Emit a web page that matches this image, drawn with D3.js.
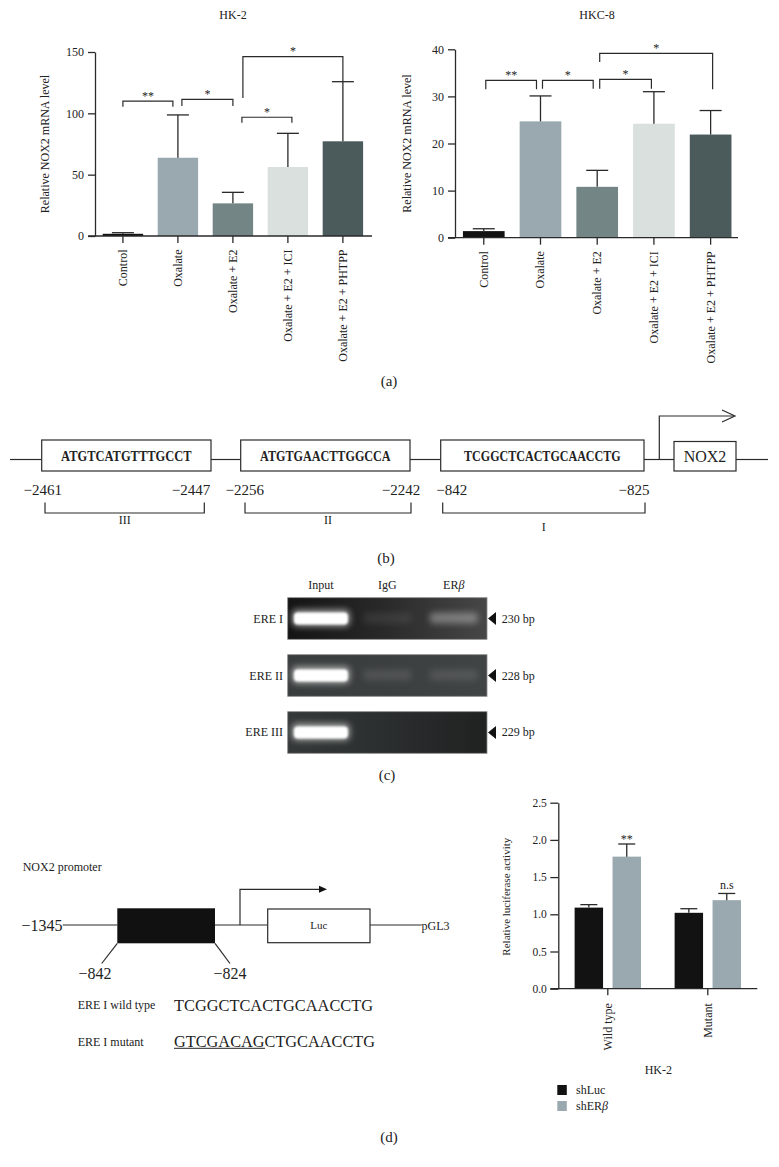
<!DOCTYPE html>
<html><head><meta charset="utf-8">
<script src="https://cdn.jsdelivr.net/npm/d3@7/dist/d3.min.js"></script>
<style>
body{margin:0;background:#fff}
svg{display:block}
text{font-family:"Liberation Serif","Times New Roman",serif;fill:#222}
</style>
</head><body>
<svg id="c" width="779" height="1167"></svg>
<script>
// ---------------- DATA ----------------
const treatments = ["Control","Oxalate","Oxalate + E2","Oxalate + E2 + ICI","Oxalate + E2 + PHTPP"];
const hk2Mean = [1.8, 63.8, 26.6, 56.2, 77.2];
const hk2SD   = [0.9, 34.9, 9.0, 27.5, 48.6];
const hk2Ticks = [0, 50, 100, 150];
const hkc8Mean = [1.4, 24.7, 10.8, 24.2, 21.9];
const hkc8SD   = [0.5, 5.4, 3.5, 6.8, 5.1];
const hkc8Ticks = [0, 10, 20, 30, 40];
// significance brackets: category a -> b, top level, leg ends (data units)
const hk2Sig = [
  {a:0,b:1,top:110,la:105.4,lb:105.4,label:"**"},
  {a:1,b:2,top:111.4,la:106,lb:106,label:"*"},
  {a:2,b:3,top:96.8,la:92.4,lb:92.4,label:"*"},
  {a:2,b:4,top:146.2,la:112.5,lb:125.8,label:"*"}
];
const hkc8Sig = [
  {a:0,b:1,top:33.4,la:31.5,lb:31.5,label:"**"},
  {a:1,b:2,top:33.4,la:31.6,lb:31.6,label:"*"},
  {a:2,b:3,top:33.6,la:31.6,lb:31.6,label:"*"},
  {a:2,b:4,top:39.15,la:37.3,lb:31.5,label:"*"}
];
// panel b: ERE elements
const ereSeqs = ["ATGTCATGTTTGCCT","ATGTGAACTTGGCCA","TCGGCTCACTGCAACCTG"];
const ereStart = ["\u22122461","\u22122256","\u2212842"];
const ereEnd   = ["\u22122447","\u22122242","\u2212825"];
const ereNames = ["III","II","I"];
// panel c: ChIP gel
const lanes = ["Input","IgG","ER\u03b2"];
const gelRows = ["ERE I","ERE II","ERE III"];
const gelSizes = ["230 bp","228 bp","229 bp"];
const bandIntensity = [[1,0.07,0.32],[1,0.10,0.10],[1,0.0,0.0]];
// panel d: luciferase
const lucGroups = ["Wild type","Mutant"];
const lucSeries = ["shLuc","shER\u03b2"];
const shLucMean = [1.09, 1.02];
const shLucSD   = [0.04, 0.055];
const shERbMean = [1.775, 1.19];
const shERbSD   = [0.17, 0.09];
const lucTicks = [0, 0.5, 1.0, 1.5, 2.0, 2.5];
const lucSig = ["**","n.s"];
const wtSeq = "TCGGCTCACTGCAACCTG";
const mutSeqChanged = "GTCGACAG";
const mutSeqRest = "CTGCAACCTG";

// ---------------- STYLE ----------------
const barColors = ["#121212","#9aa9b0","#738584","#d9e0de","#4b5a5b"];
const lucColors = ["#121212","#9aa9b0"];
const ink = "#2a2a2a";
const svg = d3.select("#c");
svg.append("rect").attr("width",779).attr("height",1167).attr("fill","#fff");

// ---------------- PANEL A ----------------
function barChart(cfg){
  const g = svg.append("g");
  const x = d3.scaleBand().domain(treatments).range(cfg.xr).paddingInner(0.265).paddingOuter(0.14);
  const y = d3.scaleLinear().domain(cfg.yd).range(cfg.yr);
  const cx = i => x(treatments[i]) + x.bandwidth()/2;
  g.selectAll("rect.bar").data(cfg.mean).join("rect").attr("class","bar")
    .attr("x",(d,i)=>x(treatments[i])).attr("width",x.bandwidth())
    .attr("y",d=>y(d)).attr("height",d=>y(0)-y(d))
    .attr("fill",(d,i)=>barColors[i]);
  // error bars
  const eb = g.selectAll("g.eb").data(cfg.mean).join("g").attr("class","eb")
    .attr("stroke",ink).attr("stroke-width",1.3);
  eb.append("line").attr("x1",(d,i)=>cx(i)).attr("x2",(d,i)=>cx(i))
    .attr("y1",d=>y(d)).attr("y2",(d,i)=>y(d+cfg.sd[i]));
  eb.append("line").attr("x1",(d,i)=>cx(i)-11).attr("x2",(d,i)=>cx(i)+11)
    .attr("y1",(d,i)=>y(d+cfg.sd[i])).attr("y2",(d,i)=>y(d+cfg.sd[i]));
  // y axis
  const ya = g.append("g").attr("transform",`translate(${cfg.xr[0]},0)`)
    .call(d3.axisLeft(y).tickValues(cfg.ticks).tickSize(7).tickSizeOuter(0).tickPadding(4));
  ya.attr("font-family",null).attr("font-size",12).attr("color",ink);
  ya.selectAll("path,line").attr("stroke-width",1.3);
  ya.selectAll("text").attr("fill","#222");
  // x axis
  g.append("line").attr("x1",cfg.xr[0]-7).attr("x2",cfg.xEnd)
    .attr("y1",y(0)).attr("y2",y(0)).attr("stroke",ink).attr("stroke-width",1.3);
  g.selectAll("line.xt").data(treatments).join("line").attr("class","xt")
    .attr("x1",(d,i)=>cx(i)).attr("x2",(d,i)=>cx(i))
    .attr("y1",y(0)).attr("y2",y(0)+7).attr("stroke",ink).attr("stroke-width",1.3);
  g.selectAll("text.xl").data(treatments).join("text").attr("class","xl")
    .attr("transform",(d,i)=>`translate(${cx(i)},${y(0)+13.5}) rotate(-90)`)
    .attr("text-anchor","end").attr("dy","0.33em").attr("font-size",12).text(d=>d);
  // y label
  g.append("text").attr("transform",`translate(${cfg.ylx},${(cfg.yr[0]+cfg.yr[1])/2}) rotate(-90)`)
    .attr("text-anchor","middle").attr("dy","0.33em").attr("font-size",12)
    .text("Relative NOX2 mRNA level");
  // title
  g.append("text").attr("x",cfg.tx).attr("y",19).attr("text-anchor","middle")
    .attr("font-size",12).text(cfg.title);
  // brackets
  cfg.sig.forEach((s,k)=>{
    const xa = cx(s.a)+cfg.nudge[k][0], xb = cx(s.b)+cfg.nudge[k][1];
    g.append("path").attr("d",`M${xa},${y(s.la)}V${y(s.top)}H${xb}V${y(s.lb)}`)
      .attr("fill","none").attr("stroke",ink).attr("stroke-width",1.2);
    g.append("text").attr("x",(xa+xb)/2).attr("y",y(s.top)-1.5).attr("text-anchor","middle")
      .attr("font-size",12).attr("fill","#444").text(s.label);
  });
}
barChart({xr:[95,370.8],xEnd:372,yd:[0,150],yr:[236,52],mean:hk2Mean,sd:hk2SD,ticks:hk2Ticks,
  ylx:45,tx:233,title:"HK-2",sig:hk2Sig,nudge:[[0,-5],[4,0],[9,4],[10,0]]});
barChart({xr:[455,739.4],xEnd:738,yd:[0,40],yr:[237.7,49.3],mean:hkc8Mean,sd:hkc8SD,ticks:hkc8Ticks,
  ylx:407,tx:597,title:"HKC-8",sig:hkc8Sig,nudge:[[2,-4],[2,-4],[2.5,-2.5],[2.5,2]]});

function panelLabel(t,x,y){
  svg.append("text").attr("x",x).attr("y",y).attr("text-anchor","middle").attr("font-size",15).text(t);
}
panelLabel("(a)",389,386);

// ---------------- PANEL B ----------------
{
  const g = svg.append("g").attr("stroke",ink).attr("stroke-width",1.2);
  const lineY = 459.5;
  const boxes = [[41.7,211],[240.7,410],[440.7,644]];
  const segs = [[10,41.7],[211,240.7],[410,440.7],[644,674],[736,768]];
  segs.forEach(s=>g.append("line").attr("x1",s[0]).attr("x2",s[1]).attr("y1",lineY).attr("y2",lineY));
  boxes.forEach((b,i)=>{
    g.append("rect").attr("x",b[0]).attr("y",440).attr("width",b[1]-b[0]).attr("height",31)
      .attr("fill","#fff");
    svg.append("text").attr("x",(b[0]+b[1])/2).attr("y",460.5).attr("text-anchor","middle")
      .attr("font-family","DejaVu Serif").attr("font-weight","bold").attr("font-size",14)
      .attr("textLength",ereSeqs[i].length*8.7).attr("lengthAdjust","spacingAndGlyphs")
      .attr("fill","#111").text(ereSeqs[i]);
    // position labels
    svg.append("text").attr("x",b[0]+ (i===0?1:i===1?4:11)).attr("y",495).attr("text-anchor","middle")
      .attr("font-size",15).text(ereStart[i]);
    svg.append("text").attr("x",b[1]-(i===0?20:i===1?9:10)).attr("y",495).attr("text-anchor","middle")
      .attr("font-size",15).text(ereEnd[i]);
  });
  // brackets under
  const br = [[45,204.3],[245,411],[442.7,645]];
  br.forEach((b,i)=>{
    g.append("path").attr("d",`M${b[0]},502.5V513H${b[1]}V502.5`).attr("fill","none");
    svg.append("text").attr("x",(b[0]+b[1])/2).attr("y",i===2?531:523.5)
      .attr("text-anchor","middle").attr("font-size",12).text(ereNames[i]);
  });
  // NOX2 box
  g.append("rect").attr("x",674).attr("y",441.5).attr("width",62).attr("height",29.5).attr("fill","#fff");
  svg.append("text").attr("x",705).attr("y",461.5).attr("text-anchor","middle").attr("font-size",16).text("NOX2");
  // TSS arrow (open)
  g.append("path").attr("d","M659.3,459.5V416H734").attr("fill","none");
  g.append("path").attr("d","M722,410L735,416L722,422").attr("fill","none");
}
panelLabel("(b)",386,563);

// ---------------- PANEL C ----------------
{
  const defs = svg.append("defs");
  defs.append("filter").attr("id","bl1").attr("x","-50%").attr("y","-100%").attr("width","200%").attr("height","300%")
    .append("feGaussianBlur").attr("stdDeviation",1.2);
  defs.append("filter").attr("id","bl3").attr("x","-50%").attr("y","-150%").attr("width","200%").attr("height","400%")
    .append("feGaussianBlur").attr("stdDeviation",3);
  const gelGrad = [["#141414","#2a2a2a","#474747"],["#3a3d3d","#3c3f3f","#414444"],["#363939","#2b2e2e","#202222"]];
  gelGrad.forEach((c,i)=>{
    const lg = defs.append("linearGradient").attr("id","gg"+i);
    lg.append("stop").attr("offset","0%").attr("stop-color",c[0]);
    lg.append("stop").attr("offset","50%").attr("stop-color",c[1]);
    lg.append("stop").attr("offset","100%").attr("stop-color",c[2]);
  });
  const lx = d3.scaleBand().domain(lanes).range([287.7,487]);
  const ry = d3.scaleBand().domain(gelRows).range([597.7,753.3]).paddingInner(0.27);
  svg.selectAll("text.lane").data(lanes).join("text").attr("class","lane")
    .attr("x",d=>lx(d)+lx.bandwidth()/2).attr("y",589).attr("text-anchor","middle").attr("font-size",12)
    .each(function(d){
      const t=d3.select(this);
      if(d.indexOf("\u03b2")>=0){t.append("tspan").text("ER");t.append("tspan").attr("font-style","italic").text("\u03b2");}
      else t.text(d);
    });
  gelRows.forEach((r,i)=>{
    const y0 = ry(r), h = ry.bandwidth(), cy = y0+h/2;
    svg.append("rect").attr("x",287.7).attr("y",y0).attr("width",199.3).attr("height",h)
      .attr("fill",`url(#gg${i})`).attr("stroke","#8a8a8a").attr("stroke-width",0.8);
    lanes.forEach((l,j)=>{
      const v = bandIntensity[i][j];
      if(v<=0) return;
      const bx = lx(l)+lx.bandwidth()/2;
      const w = j===0?54:48;
      if(j===0){
        svg.append("rect").attr("x",bx-w/2-2).attr("y",cy-9).attr("width",w+4).attr("height",17)
          .attr("rx",5).attr("fill","#fff").attr("opacity",0.55).attr("filter","url(#bl3)");
        svg.append("rect").attr("x",bx-w/2).attr("y",cy-6).attr("width",w).attr("height",12)
          .attr("rx",4).attr("fill","#fff").attr("filter","url(#bl1)");
      } else {
        svg.append("rect").attr("x",bx-w/2).attr("y",cy-6).attr("width",w).attr("height",11)
          .attr("rx",4).attr("fill","#fff").attr("opacity",v).attr("filter","url(#bl3)");
      }
    });
    svg.append("text").attr("x",283).attr("y",cy+4).attr("text-anchor","end").attr("font-size",12).text(r);
    svg.append("path").attr("d",`M488,${cy}L496,${cy-6.5}L496,${cy+6.5}Z`).attr("fill","#111");
    svg.append("text").attr("x",501.7).attr("y",cy+4).attr("font-size",12).text(gelSizes[i]);
  });
}
panelLabel("(c)",387,780);

// ---------------- PANEL D (left) ----------------
{
  const g = svg.append("g").attr("stroke",ink).attr("stroke-width",1.2);
  svg.append("text").attr("x",22.7).attr("y",870.5).attr("font-size",12).text("NOX2 promoter");
  svg.append("text").attr("x",21.5).attr("y",930.5).attr("font-size",16).text("\u22121345");
  [[62.7,117.3],[215,267.7],[370,421.7]].forEach(s=>
    g.append("line").attr("x1",s[0]).attr("x2",s[1]).attr("y1",925).attr("y2",925));
  svg.append("rect").attr("x",117.3).attr("y",908.3).attr("width",97.7).attr("height",35).attr("fill","#111");
  g.append("rect").attr("x",267.7).attr("y",909).attr("width",102.3).attr("height",33.7).attr("fill","#fff");
  svg.append("text").attr("x",318.8).attr("y",929).attr("text-anchor","middle").attr("font-size",11).text("Luc");
  svg.append("text").attr("x",421.5).attr("y",929.5).attr("font-size",12).text("pGL3");
  g.append("path").attr("d","M240,925V889.3H321").attr("fill","none");
  svg.append("path").attr("d","M327,889.3L319,885.8L319,892.8Z").attr("fill","#111");
  g.append("line").attr("x1",117.3).attr("y1",943.3).attr("x2",101.7).attr("y2",963.5);
  g.append("line").attr("x1",215).attr("y1",943.3).attr("x2",230).attr("y2",963.5);
  svg.append("text").attr("x",95).attr("y",978.5).attr("text-anchor","middle").attr("font-size",16).text("\u2212842");
  svg.append("text").attr("x",230).attr("y",978.5).attr("text-anchor","middle").attr("font-size",16).text("\u2212824");
  svg.append("text").attr("x",77.7).attr("y",1009).attr("font-size",12).text("ERE I wild type");
  svg.append("text").attr("x",77.7).attr("y",1046).attr("font-size",12).text("ERE I mutant");
  svg.append("text").attr("x",174).attr("y",1010.5).attr("font-size",16.5)
    .attr("textLength",199).attr("lengthAdjust","spacingAndGlyphs").text(wtSeq);
  const mt = svg.append("text").attr("x",174).attr("y",1046.5).attr("font-size",16.5)
    .attr("textLength",201).attr("lengthAdjust","spacingAndGlyphs");
  mt.append("tspan").text(mutSeqChanged);
  mt.append("tspan").text(mutSeqRest);
  svg.append("line").attr("x1",174).attr("x2",265).attr("y1",1048.3).attr("y2",1048.3)
    .attr("stroke","#222").attr("stroke-width",1);
}

// ---------------- PANEL D (right) ----------------
{
  const g = svg.append("g");
  const x0 = d3.scaleBand().domain(lucGroups).range([558.3,757.3]).paddingInner(0.2).paddingOuter(0.095);
  const x1 = d3.scaleBand().domain(lucSeries).range([0,x0.bandwidth()]).paddingInner(0.25).paddingOuter(0.18);
  const y = d3.scaleLinear().domain([0,2.5]).range([988.7,802.7]);
  const means = [shLucMean, shERbMean], sds = [shLucSD, shERbSD];
  lucSeries.forEach((s,si)=>{
    lucGroups.forEach((gname,gi)=>{
      const bx = x0(gname)+x1(s), v = means[si][gi], e = sds[si][gi];
      const c = bx + x1.bandwidth()/2;
      g.append("rect").attr("x",bx).attr("width",x1.bandwidth()).attr("y",y(v)).attr("height",y(0)-y(v))
        .attr("fill",lucColors[si]);
      g.append("line").attr("x1",c).attr("x2",c).attr("y1",y(v)).attr("y2",y(v+e)).attr("stroke",ink).attr("stroke-width",1.3);
      g.append("line").attr("x1",c-8.5).attr("x2",c+8.5).attr("y1",y(v+e)).attr("y2",y(v+e)).attr("stroke",ink).attr("stroke-width",1.3);
      if(si===1){
        g.append("text").attr("x",c).attr("y",y(v+e)-(gi===0?1:4)).attr("text-anchor","middle")
          .attr("font-size",12).text(lucSig[gi]);
      }
    });
  });
  const ya = g.append("g").attr("transform","translate(558.3,0)")
    .call(d3.axisLeft(y).tickValues(lucTicks).tickFormat(d3.format(".1f")).tickSize(8).tickSizeOuter(0).tickPadding(3.5));
  ya.attr("font-family",null).attr("font-size",11.5).attr("color",ink);
  ya.selectAll("path,line").attr("stroke-width",1.3);
  ya.selectAll("text").attr("fill","#222");
  g.append("line").attr("x1",550.3).attr("x2",757.3).attr("y1",y(0)).attr("y2",y(0)).attr("stroke",ink).attr("stroke-width",1.3);
  lucGroups.forEach(gname=>{
    const c = x0(gname)+x0.bandwidth()/2;
    g.append("line").attr("x1",c).attr("x2",c).attr("y1",y(0)).attr("y2",y(0)+6.5).attr("stroke",ink).attr("stroke-width",1.3);
    g.append("text").attr("transform",`translate(${c},${y(0)+14.5}) rotate(-90)`).attr("text-anchor","end")
      .attr("dy","0.33em").attr("font-size",12).text(gname);
  });
  g.append("text").attr("transform","translate(506.7,896.7) rotate(-90)").attr("text-anchor","middle")
    .attr("dy","0.33em").attr("font-size",11).text("Relative luciferase activity");
  g.append("text").attr("x",658.3).attr("y",1074).attr("text-anchor","middle").attr("font-size",12).text("HK-2");
  lucSeries.forEach((s,i)=>{
    const cy = 1090 + i*16;
    g.append("rect").attr("x",557.3).attr("y",cy-5).attr("width",9.5).attr("height",10).attr("fill",lucColors[i]);
    const t = g.append("text").attr("x",576).attr("y",cy+4).attr("font-size",12);
    if(s.indexOf("\u03b2")>=0){t.append("tspan").text("shER");t.append("tspan").attr("font-style","italic").text("\u03b2");}
    else t.text(s);
  });
}
panelLabel("(d)",389,1142);
</script>
</body></html>
